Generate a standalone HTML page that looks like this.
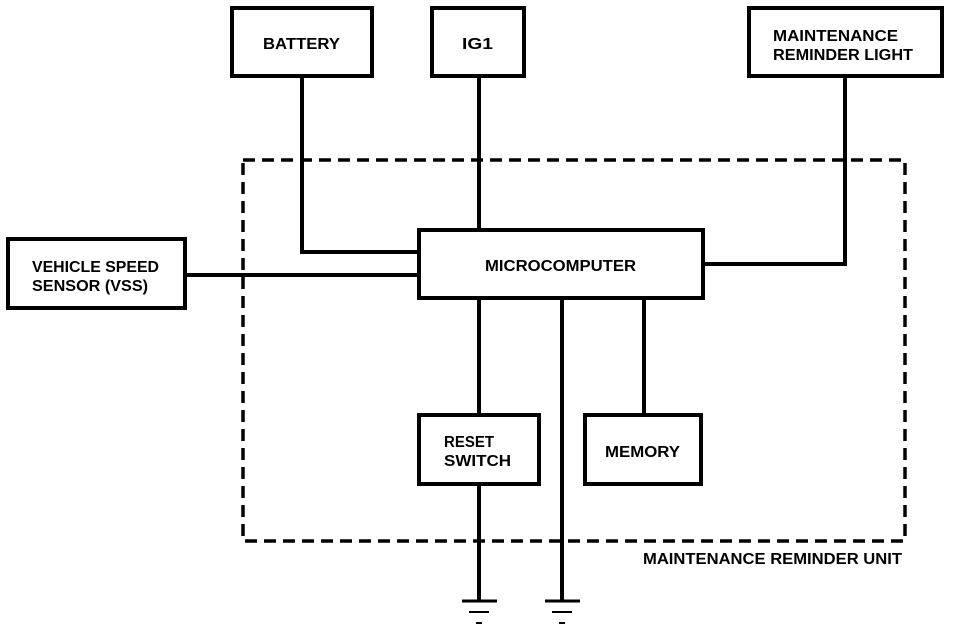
<!DOCTYPE html>
<html><head><style>html,body{margin:0;padding:0;background:#fff}svg{display:block}text{font-family:"Liberation Sans",sans-serif;font-weight:bold;font-size:16px;fill:#000}</style></head>
<body>
<svg width="960" height="630" viewBox="0 0 960 630" xmlns="http://www.w3.org/2000/svg">
<g fill="none" stroke="#000" stroke-width="4">
<rect x="243" y="160" width="662" height="381" stroke-dasharray="12,7" stroke-width="3.5"/>
<rect x="232" y="8" width="140" height="68"/>
<rect x="432" y="8" width="92" height="68"/>
<rect x="749" y="8" width="193" height="68"/>
<rect x="8" y="239" width="177" height="69"/>
<rect x="419" y="230" width="284" height="68"/>
<rect x="419" y="415" width="120" height="69"/>
<rect x="585" y="415" width="116" height="69"/>
<polyline points="302,76 302,252 419,252"/>
<line x1="479" y1="76" x2="479" y2="230"/>
<polyline points="845,76 845,264 703,264"/>
<line x1="185" y1="275" x2="419" y2="275"/>
<line x1="479" y1="298" x2="479" y2="415"/>
<line x1="644" y1="298" x2="644" y2="415"/>
<line x1="562" y1="298" x2="562" y2="601"/>
<line x1="479" y1="484" x2="479" y2="601"/>
<line x1="462" y1="601" x2="497" y2="601" stroke-width="3"/>
<line x1="469" y1="612" x2="489" y2="612" stroke-width="2"/>
<line x1="476" y1="623" x2="482" y2="623" stroke-width="2"/>
<line x1="545" y1="601" x2="580" y2="601" stroke-width="3"/>
<line x1="552" y1="612" x2="572" y2="612" stroke-width="2"/>
<line x1="559" y1="623" x2="565" y2="623" stroke-width="2"/>
</g>
<text x="263" y="49" textLength="77" lengthAdjust="spacingAndGlyphs">BATTERY</text>
<text x="462" y="49" textLength="31" lengthAdjust="spacingAndGlyphs">IG1</text>
<text x="773" y="41" textLength="125" lengthAdjust="spacingAndGlyphs">MAINTENANCE</text>
<text x="773" y="60" textLength="140" lengthAdjust="spacingAndGlyphs">REMINDER LIGHT</text>
<text x="32" y="272" textLength="127" lengthAdjust="spacingAndGlyphs">VEHICLE SPEED</text>
<text x="32" y="291" textLength="116" lengthAdjust="spacingAndGlyphs">SENSOR (VSS)</text>
<text x="485" y="271" textLength="151" lengthAdjust="spacingAndGlyphs">MICROCOMPUTER</text>
<text x="444" y="447" textLength="50" lengthAdjust="spacingAndGlyphs">RESET</text>
<text x="444" y="466" textLength="67" lengthAdjust="spacingAndGlyphs">SWITCH</text>
<text x="605" y="457" textLength="75" lengthAdjust="spacingAndGlyphs">MEMORY</text>
<text x="643" y="564" textLength="259" lengthAdjust="spacingAndGlyphs">MAINTENANCE REMINDER UNIT</text>
</svg>
</body></html>
